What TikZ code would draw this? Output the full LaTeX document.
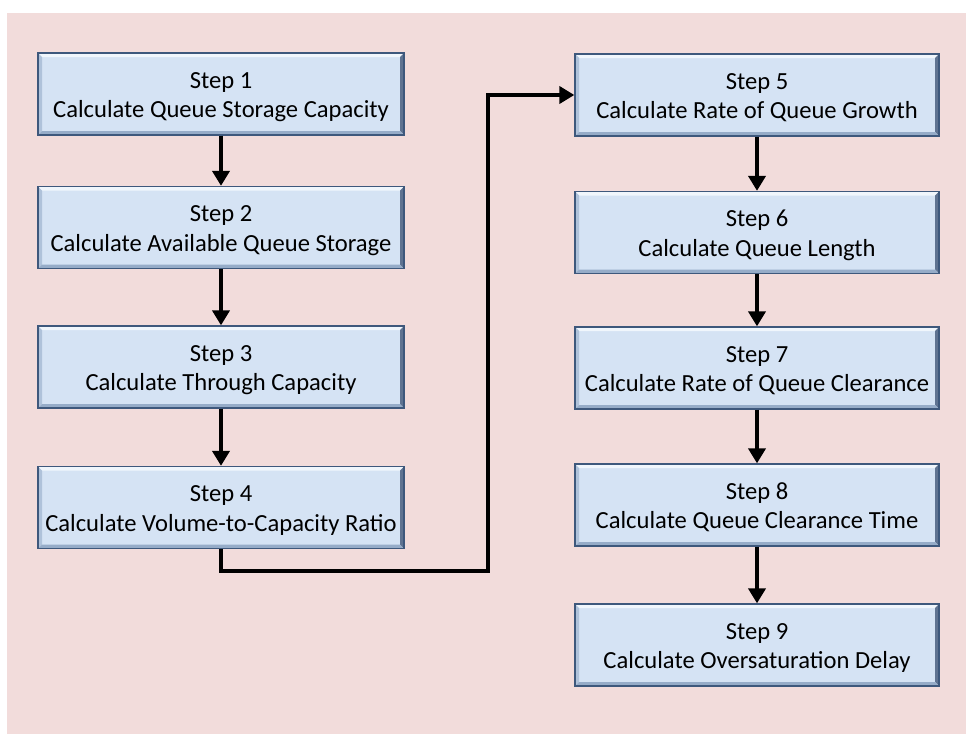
\documentclass[tikz,border=0pt]{standalone}
\usepackage{fontspec}
\setmainfont{Carlito}
\usetikzlibrary{arrows.meta}
\definecolor{bgpink}{RGB}{242,220,219}
\definecolor{boxfill}{RGB}{213,227,244}
\definecolor{boxedge}{RGB}{62,88,124}
\definecolor{bevlight}{RGB}{240,246,252}
\definecolor{bevdark}{RGB}{95,115,145}
\definecolor{bevmid}{RGB}{150,172,200}
\newcommand\steptext[2]{\raisebox{-3pt}[\height][\depth]{\begin{tabular}{@{}c@{}}#1\\#2\end{tabular}}}
\tikzset{
  stepbox/.style={draw=boxedge, line width=1.3pt, fill=boxfill,
    minimum height=82pt, inner sep=0pt,
    font=\fontsize{24.6}{29.5}\selectfont,
    path picture={
      \fill[bevlight] (path picture bounding box.north west) -- (path picture bounding box.north east)
        -- ([shift={(-4pt,-4pt)}]path picture bounding box.north east) -- ([shift={(4pt,-4pt)}]path picture bounding box.north west) -- cycle;
      \fill[bevmid!60!boxfill] (path picture bounding box.north west) -- ([shift={(4pt,-4pt)}]path picture bounding box.north west)
        -- ([shift={(4pt,4pt)}]path picture bounding box.south west) -- (path picture bounding box.south west) -- cycle;
      \fill[bevdark] (path picture bounding box.north east) -- ([shift={(-4pt,-4pt)}]path picture bounding box.north east)
        -- ([shift={(-4pt,4pt)}]path picture bounding box.south east) -- (path picture bounding box.south east) -- cycle;
      \fill[bevmid] (path picture bounding box.south west) -- ([shift={(4pt,4pt)}]path picture bounding box.south west)
        -- ([shift={(-4pt,4pt)}]path picture bounding box.south east) -- (path picture bounding box.south east) -- cycle;
    }},
  leftbox/.style={stepbox, minimum width=366pt},
  rightbox/.style={stepbox, minimum width=364pt},
  conn/.style={line width=4.6pt, line join=miter, -{Triangle[width=17pt,length=15pt]}}
}
\begin{document}
\begin{tikzpicture}[x=1pt,y=-1pt]
\useasboundingbox (0,0) rectangle (966,734);
\fill[bgpink] (7,13) rectangle (966,734);
% left column
\node[leftbox] (s1) at (221,94) {\steptext{Step 1}{Calculate Queue Storage Capacity}};
\node[leftbox] (s2) at (221,227.5) {\steptext{Step 2}{Calculate Available Queue Storage}};
\node[leftbox] (s3) at (221,367) {\steptext{Step 3}{Calculate Through Capacity}};
\node[leftbox] (s4) at (221,507.5) {\steptext{Step 4}{Calculate Volume-to-Capacity Ratio}};
% right column
\node[rightbox] (s5) at (757,95) {\steptext{Step 5}{Calculate Rate of Queue Growth}};
\node[rightbox] (s6) at (757,232.5) {\steptext{Step 6}{Calculate Queue Length}};
\node[rightbox] (s7) at (757,368) {\steptext{Step 7}{Calculate Rate of Queue Clearance}};
\node[rightbox] (s8) at (757,505) {\steptext{Step 8}{Calculate Queue Clearance Time}};
\node[rightbox] (s9) at (757,645) {\steptext{Step 9}{Calculate Oversaturation Delay}};
% connectors
\draw[conn] (s1.south) -- (s2.north);
\draw[conn] (s2.south) -- (s3.north);
\draw[conn] (s3.south) -- (s4.north);
\coordinate (k1) at (488,571);
\draw[conn] (s4.south) |- (k1) |- (s5.west);
\draw[conn] (s5.south) -- (s6.north);
\draw[conn] (s6.south) -- (s7.north);
\draw[conn] (s7.south) -- (s8.north);
\draw[conn] (s8.south) -- (s9.north);
\end{tikzpicture}
\end{document}
